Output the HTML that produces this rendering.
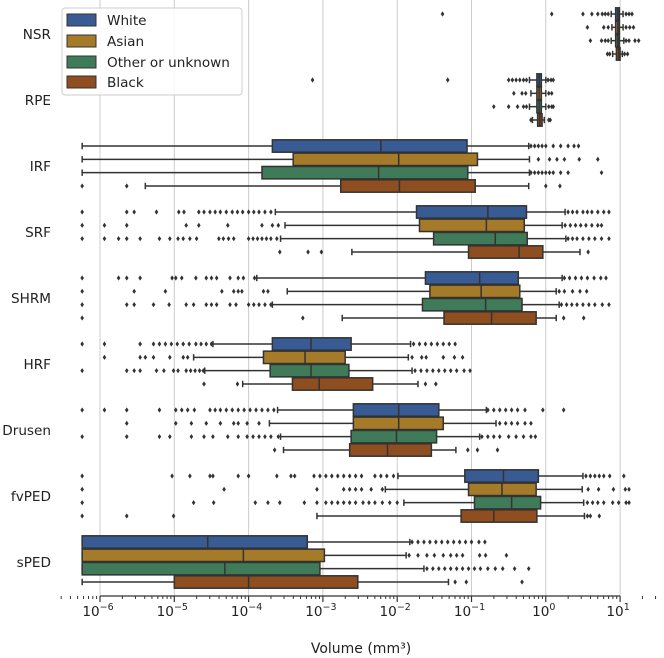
<!DOCTYPE html>
<html><head><meta charset="utf-8">
<style>
html,body{margin:0;padding:0;background:#fff;}
svg{display:block;font-family:"DejaVu Sans","Liberation Sans",sans-serif;}
</style></head>
<body>
<svg id="chart" width="664" height="658" viewBox="0 0 664 658" xmlns="http://www.w3.org/2000/svg">
<g id="grid"></g>
<g id="boxes"></g>
<g id="axis"></g>
<g id="ylabels"></g>
<text x="361" y="653" font-size="14" fill="#222" text-anchor="middle">Volume (mm³)</text>
<g>
<rect x="62" y="8" width="180" height="87" rx="3" fill="#fff" fill-opacity="0.85" stroke="#ccc"/>
<g><rect x="67" y="14" width="29" height="12" fill="#375b92" stroke="#333" stroke-width="1"/><text x="107" y="25" font-size="13.6" fill="#222">White</text></g>
<g><rect x="67" y="35" width="29" height="12" fill="#a57a28" stroke="#333" stroke-width="1"/><text x="107" y="46" font-size="13.6" fill="#222">Asian</text></g>
<g><rect x="67" y="56" width="29" height="12" fill="#3f7b58" stroke="#333" stroke-width="1"/><text x="107" y="67" font-size="13.6" fill="#222">Other or unknown</text></g>
<g><rect x="67" y="76" width="29" height="12" fill="#8e4e1f" stroke="#333" stroke-width="1"/><text x="107" y="87" font-size="13.6" fill="#222">Black</text></g>
</g>
</svg>
<script>
// values are log10(volume in mm^3)
const categories = ["NSR","RPE","IRF","SRF","SHRM","HRF","Drusen","fvPED","sPED"];
const races = ["White","Asian","Other or unknown","Black"];
const whiskerLow = [
 [0.88,0.89,0.88,0.90],[-0.22,-0.2,-0.22,-0.18],[-6.24,-6.24,-6.24,-5.39],[-3.64,-3.51,-3.57,-2.61],
 [-3.89,-3.48,-3.68,-2.74],[-4.48,-4.74,-4.59,-4.08],[-3.61,-3.72,-3.57,-3.53],[-1.99,-2.16,-1.91,-3.08],
 [-6.24,-6.24,-6.24,-6.24]];
const q1 = [
 [0.94,0.94,0.94,0.95],[-0.12,-0.12,-0.12,-0.11],[-3.68,-3.40,-3.82,-2.76],[-1.74,-1.70,-1.51,-1.04],
 [-1.62,-1.56,-1.66,-1.37],[-3.68,-3.80,-3.71,-3.41],[-2.59,-2.59,-2.62,-2.64],[-1.09,-1.04,-0.96,-1.14],
 [-6.24,-6.24,-6.24,-5.00]];
const median = [
 [0.97,0.97,0.97,0.98],[-0.09,-0.09,-0.09,-0.08],[-2.22,-1.98,-2.25,-1.97],[-0.78,-0.80,-0.68,-0.36],
 [-0.89,-0.87,-0.81,-0.73],[-3.16,-3.24,-3.16,-3.05],[-1.98,-1.98,-2.01,-2.13],[-0.57,-0.59,-0.46,-0.70],
 [-4.55,-4.07,-4.32,-4.00]];
const q3 = [
 [0.99,0.99,0.99,1.00],[-0.06,-0.06,-0.06,-0.05],[-1.06,-0.92,-1.05,-0.95],[-0.26,-0.29,-0.25,-0.04],
 [-0.37,-0.35,-0.32,-0.13],[-2.62,-2.70,-2.65,-2.33],[-1.44,-1.38,-1.47,-1.54],[-0.10,-0.13,-0.07,-0.12],
 [-3.21,-2.98,-3.04,-2.53]];
const whiskerHigh = [
 [1.04,1.04,1.05,1.03],[0.0,0.0,0.0,-0.02],[-0.23,-0.22,-0.22,-0.23],[0.26,0.22,0.27,0.46],
 [0.22,0.14,0.18,0.14],[-1.82,-1.85,-1.80,-1.72],[-0.80,-0.67,-0.89,-1.21],[0.50,0.49,0.51,0.52],
 [-1.83,-1.88,-1.64,-1.31]];
const outliers = [
 [[-1.39,0.08,0.5,0.62,0.7,0.76,0.8,0.84,1.08,1.12,1.16],[0.56,0.78,0.84,1.08,1.13,1.18],[0.6,0.75,0.8,0.84,1.08,1.12,1.2,1.25],[0.83,0.86,1.06,1.1]],
 [[-3.14,-1.32,-0.5,-0.45,-0.4,-0.35,-0.3,-0.26,0.03,0.07,0.1],[-0.43,-0.32,-0.27,0.04,0.08],[-0.7,-0.5,-0.38,-0.3,-0.26,0.04,0.08,0.1],[-0.2,0.04,0.06]],
 [[-0.2,-0.15,-0.1,-0.05,0.0,0.1,0.2,0.3,0.38,0.44],[-0.1,0.05,0.15,0.25,0.45,0.7],[-0.2,-0.15,-0.1,-0.05,0.0,0.05,0.1,0.2,0.3,0.75],[-6.24,-5.64,0.0,0.19]],
 [[-6.24,-5.64,-5.54,-5.24,-4.94,-4.87,-4.67,-4.6,-4.52,-4.45,-4.38,-4.3,-4.22,-4.15,-4.08,-4.0,-3.93,-3.86,-3.78,-3.7,0.3,0.36,0.42,0.5,0.56,0.62,0.7,0.78,0.85],
  [-6.24,-5.94,-5.64,-4.84,-4.67,-4.28,-3.82,-3.68,-3.6,0.26,0.33,0.4,0.47,0.54,0.62,0.7,0.75],
  [-6.24,-5.94,-5.75,-5.64,-5.46,-5.2,-5.06,-4.95,-4.88,-4.79,-4.7,-4.4,-4.34,-4.27,-4.2,-4.0,-3.94,-3.88,-3.82,-3.76,-3.7,-3.62,0.3,0.36,0.42,0.5,0.58,0.66,0.75,0.85],
  [-3.58,-3.2,-3.02,0.57]],
 [[-6.24,-5.75,-5.64,-5.46,-5.03,-4.98,-4.9,-4.71,-4.57,-4.5,-4.43,-4.25,-4.14,-4.07,-3.92,0.25,0.32,0.4,0.48,0.56,0.65,0.74,0.81],
  [-6.24,-5.54,-5.12,-4.36,-4.2,-4.14,-4.09,-3.8,-3.74,0.18,0.25,0.36,0.46,0.55],
  [-6.24,-5.64,-5.54,-5.28,-5.07,-4.84,-4.74,-4.57,-4.5,-4.43,-4.25,-4.17,-4.0,-3.93,-3.86,-3.78,-3.7,0.21,0.28,0.35,0.42,0.5,0.58,0.66,0.76,0.85],
  [-6.24,-3.27,0.24,0.51]],
 [[-6.24,-5.94,-5.46,-5.28,-5.2,-5.12,-5.04,-4.96,-4.88,-4.8,-4.71,-4.64,-4.57,-4.5,-1.78,-1.7,-1.62,-1.54,-1.46,-1.38,-1.3,-1.22],
  [-5.94,-5.46,-5.39,-5.28,-5.06,-4.88,-4.82,-1.8,-1.67,-1.61,-1.38,-1.23,-1.12],
  [-6.24,-5.64,-5.54,-5.46,-5.24,-5.14,-5.01,-4.95,-4.84,-4.78,-4.72,-4.66,-4.61,-1.76,-1.68,-1.6,-1.52,-1.44,-1.36,-1.28,-1.2,-1.1,-1.02],
  [-4.6,-4.15,-1.62,-1.48]],
 [[-6.24,-5.94,-5.64,-5.2,-4.98,-4.9,-4.82,-4.73,-4.52,-4.45,-4.38,-4.3,-4.22,-4.14,-4.06,-3.98,-3.9,-3.82,-3.74,-3.66,-0.78,-0.7,-0.62,-0.54,-0.46,-0.38,-0.28,-0.04,0.24],
  [-5.64,-4.98,-4.77,-4.57,-4.38,-4.2,-4.14,-4.02,-3.86,-0.62,-0.54,-0.46,-0.38,-0.28,-0.2],
  [-6.24,-5.64,-5.2,-5.06,-4.77,-4.6,-4.48,-4.28,-4.14,-4.02,-3.94,-3.86,-3.78,-3.7,-3.6,-0.86,-0.78,-0.7,-0.62,-0.5,-0.4,-0.3,-0.2,-0.14],
  [-3.65,-1.05,-0.92,-0.65]],
 [[-6.24,-5.03,-4.79,-4.52,-4.48,-4.14,-4.0,-3.62,-3.43,-3.38,-3.12,-3.04,-2.96,-2.88,-2.8,-2.72,-2.64,-2.56,-2.48,-2.3,-2.22,-2.14,-2.05,0.54,0.6,0.66,0.72,0.78,0.86,1.05],
  [-6.24,-4.33,-3.08,-2.72,-2.64,-2.56,-2.48,-2.35,-2.2,0.57,0.71,0.91,1.07,1.12],
  [-6.24,-4.74,-4.47,-3.91,-3.74,-3.58,-3.25,-3.08,-2.96,-2.88,-2.8,-2.72,-2.64,-2.56,-2.46,-2.38,-2.3,-2.2,-2.1,-2.0,0.56,0.63,0.7,0.78,0.9,0.98,1.08,1.12],
  [-6.24,-5.64,-5.01,0.56,0.6,0.72]],
 [[-1.8,-1.72,-1.64,-1.56,-1.48,-1.4,-1.32,-1.24,-1.16,-1.08,-1.0,-0.9,-0.82],
  [-1.84,-1.72,-1.6,-1.5,-1.38,-1.28,-1.2,-1.12,-0.89,-0.81,-0.53],
  [-1.6,-1.52,-1.44,-1.36,-1.28,-1.2,-1.12,-1.04,-0.96,-0.88,-0.78,-0.68,-0.58,-0.42,-0.23],
  [-1.22,-1.07,-0.32]]
];
const tickExps = [-6,-5,-4,-3,-2,-1,0,1];

const NS='http://www.w3.org/2000/svg';
const colors=['#375b92','#a57a28','#3f7b58','#8e4e1f'];
const X0=100, DEC=74.3, Y0=34, GAP=66, ROW=13.33, BH=12.4, AXY=596;
function xs(L){return X0+(L+6)*DEC;}
function yc(ci,ri){return Y0+ci*GAP+(ri-1.5)*ROW;}
function mk(tag,attrs,parent){const e=document.createElementNS(NS,tag);for(const k in attrs)e.setAttribute(k,attrs[k]);parent.appendChild(e);return e;}
const grid=document.getElementById('grid'), boxes=document.getElementById('boxes'), axis=document.getElementById('axis'), yl=document.getElementById('ylabels');

tickExps.forEach(function(t){
  const g=mk('line',{x1:xs(t),x2:xs(t),y1:0,y2:AXY,stroke:'#cccccc','stroke-width':1},grid);
  
  
});

categories.forEach(function(cat,ci){
  const lab=mk('text',{x:51,y:Y0+ci*GAP+5,'font-size':13.6,fill:'#222','text-anchor':'end'},yl);
  lab.textContent=cat;
  
  
  races.forEach(function(r,ri){
    const y=yc(ci,ri);
    const g=mk('g',{},boxes);
    
    
    const lo=xs(whiskerLow[ci][ri]), a=xs(q1[ci][ri]), m=xs(median[ci][ri]), b=xs(q3[ci][ri]), hi=xs(whiskerHigh[ci][ri]);
    mk('line',{x1:lo,x2:a,y1:y,y2:y,stroke:'#333','stroke-width':1.5},g);
    mk('line',{x1:b,x2:hi,y1:y,y2:y,stroke:'#333','stroke-width':1.5},g);
    mk('line',{x1:lo,x2:lo,y1:y-3.2,y2:y+3.2,stroke:'#333','stroke-width':1.5},g);
    mk('line',{x1:hi,x2:hi,y1:y-3.2,y2:y+3.2,stroke:'#333','stroke-width':1.5},g);
    mk('rect',{x:a,y:y-BH/2,width:Math.max(b-a,1),height:BH,fill:colors[ri],stroke:'#333','stroke-width':1.5},g);
    mk('line',{x1:m,x2:m,y1:y-BH/2,y2:y+BH/2,stroke:'#333','stroke-width':1.5},g);
    outliers[ci][ri].forEach(function(v){
      const x=xs(v);
      const p=mk('path',{d:'M'+x+' '+(y-2.6)+'L'+(x+1.8)+' '+y+'L'+x+' '+(y+2.6)+'L'+(x-1.8)+' '+y+'Z',fill:'#333'},g);
      
      
    });
  });
});

// axis
const sp=mk('line',{x1:xs(-6),x2:xs(1),y1:AXY,y2:AXY,stroke:'#333','stroke-width':1.2},axis);


for(let d=-7; d<=1; d++){
  for(let k=2;k<=9;k++){
    const L=d+Math.log10(k); const x=xs(L);
    if(x<60||x>663)continue;
    mk('line',{x1:x,x2:x,y1:AXY,y2:AXY+3,stroke:'#333','stroke-width':1},axis);
  }
}
tickExps.forEach(function(t){
  const x=xs(t);
  mk('line',{x1:x,x2:x,y1:AXY,y2:AXY+6,stroke:'#333','stroke-width':1.2},axis);
  const tx=mk('text',{x:x-2,y:AXY+20,'font-size':13.6,fill:'#222','text-anchor':'middle'},axis);
  
  
  const base=document.createElementNS(NS,'tspan');base.textContent='10';tx.appendChild(base);
  const sup=document.createElementNS(NS,'tspan');sup.setAttribute('dy','-6');sup.setAttribute('font-size','9.5');
  sup.textContent=(t<0?'\u2212'+(-t):String(t));tx.appendChild(sup);
});
</script>
</body></html>
